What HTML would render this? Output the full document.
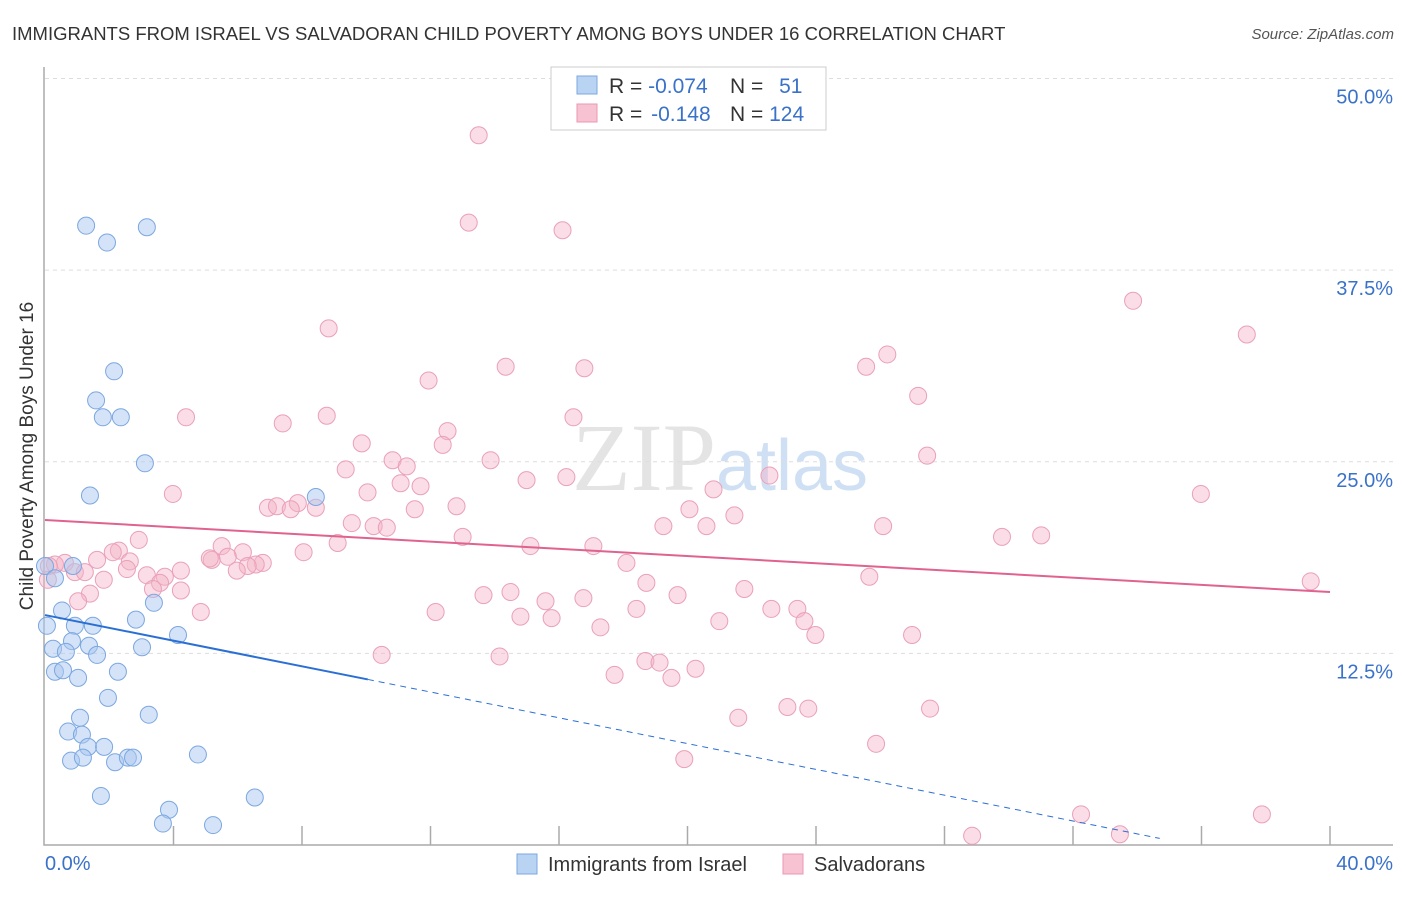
<!DOCTYPE html>
<html><head><meta charset="utf-8"><style>
body{margin:0;background:#fff;width:1406px;height:892px;overflow:hidden;font-family:"Liberation Sans",sans-serif}
</style></head><body>
<svg id="chart" width="1406" height="892" xmlns="http://www.w3.org/2000/svg" font-family="Liberation Sans, sans-serif">
<text x="12" y="40" font-size="18.5" fill="#333">IMMIGRANTS FROM ISRAEL VS SALVADORAN CHILD POVERTY AMONG BOYS UNDER 16 CORRELATION CHART</text>
<text x="1394" y="39" font-size="15" fill="#555" font-style="italic" text-anchor="end">Source: ZipAtlas.com</text>
<text x="720" y="490" font-size="96" text-anchor="middle" fill="#e4e4e4" font-family="Liberation Serif, serif">ZIP<tspan fill="#cfe0f4" font-family="Liberation Sans, sans-serif" font-size="72">atlas</tspan></text>
<text transform="translate(33,456) rotate(-90)" font-size="19" fill="#333" text-anchor="middle">Child Poverty Among Boys Under 16</text>
<g id="grid"></g><g id="pts"></g><g id="trend"></g>
<g>
<rect x="551" y="67" width="275" height="63" fill="#fff" stroke="#ccc"/>
<rect x="577" y="76" width="20" height="18" fill="#b9d3f3" stroke="#7ba7e0"/>
<rect x="577" y="104" width="20" height="18" fill="#f7c3d3" stroke="#e89ab3"/>
<text x="609" y="93" font-size="21" fill="#333">R = <tspan fill="#3a72c9">-0.074</tspan></text>
<text x="730" y="93" font-size="21" fill="#333">N = <tspan fill="#3a72c9" dx="10">51</tspan></text>
<text x="609" y="121" font-size="21" fill="#333">R = <tspan fill="#3a72c9" dx="3">-0.148</tspan></text>
<text x="730" y="121" font-size="21" fill="#333">N = <tspan fill="#3a72c9">124</tspan></text>
</g>
<g>
<rect x="517" y="854" width="20" height="20" fill="#b9d3f3" stroke="#7ba7e0"/>
<text x="548" y="871" font-size="20" fill="#333">Immigrants from Israel</text>
<rect x="783" y="854" width="20" height="20" fill="#f7c3d3" stroke="#e89ab3"/>
<text x="814" y="871" font-size="20" fill="#333">Salvadorans</text>
</g>
</svg>
<script>
const xTicks=[0,4,8,12,16,20,24,28,32,36,40];
const yTicks=[12.5,25,37.5,50];
const yTickLabels=["12.5%","25.0%","37.5%","50.0%"];
const blueX=[1.28,1.93,3.17,2.15,1.59,1.80,2.36,3.11,1.40,8.43,0,0.31,0.87,0.53,3.39,2.83,0.93,1.49,0.06,0.84,4.14,0.25,0.65,1.37,1.62,3.02,0.31,0.56,1.03,2.27,1.96,1.09,3.23,0.72,1.15,1.34,1.84,4.76,0.81,1.18,2.18,2.58,2.74,1.74,6.53,3.86,3.67,5.23];
const blueY=[40.4,39.3,40.3,30.9,29.0,27.9,27.9,24.9,22.8,22.7,18.2,17.4,18.2,15.3,15.8,14.7,14.3,14.3,14.3,13.3,13.7,12.8,12.6,13.0,12.4,12.9,11.3,11.4,10.9,11.3,9.6,8.3,8.5,7.4,7.2,6.4,6.4,5.9,5.5,5.7,5.4,5.7,5.7,3.2,3.1,2.3,1.4,1.3];
const pinkX=[13.50,13.19,16.11,33.87,37.41,8.83,26.22,14.34,16.79,25.56,11.94,27.18,4.39,8.77,16.45,7.40,12.53,9.86,12.38,27.46,10.82,13.87,11.26,9.36,22.55,16.23,14.99,11.07,11.69,3.98,20.81,35.98,10.04,6.94,7.22,7.87,7.65,8.43,11.51,12.81,20.06,21.46,9.55,10.23,10.64,19.25,20.59,26.09,13.00,29.79,31.01,2.92,9.11,15.11,17.07,5.50,2.30,2.11,8.05,1.62,2.64,5.19,6.16,5.13,5.69,6.78,6.56,6.31,5.97,4.23,0.62,0.31,0.12,0.93,1.24,2.55,3.17,3.73,1.83,3.58,18.10,25.66,39.40,18.72,1.40,4.23,3.36,1.03,0.09,14.49,13.65,15.58,16.76,19.69,21.77,4.85,12.16,18.41,22.61,23.42,14.80,15.77,20.99,23.64,17.29,23.98,26.99,10.48,14.15,18.69,19.13,17.73,19.50,20.25,21.58,23.11,23.76,27.55,25.87,19.90,32.25,37.88,28.86,33.46];
const pinkY=[46.3,40.6,40.1,35.5,33.3,33.7,32.0,31.2,31.1,31.2,30.3,29.3,27.9,28.0,27.9,27.5,27.0,26.2,26.1,25.4,25.1,25.1,24.7,24.5,24.1,24.0,23.8,23.6,23.4,22.9,23.2,22.9,23.0,22.0,22.1,22.3,21.9,22.0,21.9,22.1,21.9,21.5,21.0,20.8,20.7,20.8,20.8,20.8,20.1,20.1,20.2,19.9,19.7,19.5,19.5,19.5,19.2,19.1,19.1,18.6,18.5,18.6,19.1,18.7,18.8,18.4,18.3,18.2,17.9,17.9,18.4,18.3,18.2,17.8,17.8,18.0,17.6,17.5,17.3,17.1,18.4,17.5,17.2,17.1,16.4,16.6,16.7,15.9,17.3,16.5,16.3,15.9,16.1,16.3,16.7,15.2,15.2,15.4,15.4,15.4,14.9,14.8,14.6,14.6,14.2,13.7,13.7,12.4,12.3,12.0,11.9,11.1,10.9,11.5,8.3,9.0,8.9,8.9,6.6,5.6,2.0,2.0,0.6,0.7];
const blueTrend=[[0,15.0],[10.05,10.8],[34.7,0.43]];
const pinkTrend=[[0,21.2],[40,16.5]];
const X=v=>45+v*32.125, Y=v=>845-v*15.33;
const NS="http://www.w3.org/2000/svg";
function mk(t,a,p){const e=document.createElementNS(NS,t);for(const k in a)e.setAttribute(k,a[k]);p.appendChild(e);return e;}
const grid=document.getElementById('grid');
yTicks.forEach((t,i)=>{
 const l=mk('line',{x1:45,x2:1393,y1:Y(t),y2:Y(t),stroke:'#ddd','stroke-dasharray':'4,4'},grid);
 
 
 const tx=mk('text',{x:1393,y:Y(t)+25,'font-size':20,fill:'#3a72c9','text-anchor':'end'},grid);
 tx.textContent=yTickLabels[i];
 
 
});
const ax=mk('path',{d:'M44 67V845H1393',fill:'none',stroke:'#aaa','stroke-width':1.5},grid);


xTicks.forEach((t,i)=>{if(i===0)return;
 const l=mk('line',{x1:X(t),x2:X(t),y1:826,y2:845,stroke:'#aaa','stroke-width':1.5},grid);
 
 
});
const x0=mk('text',{x:45,y:870,'font-size':20,fill:'#3a72c9'},grid);x0.textContent='0.0%';


const x1=mk('text',{x:1393,y:870,'font-size':20,fill:'#3a72c9','text-anchor':'end'},grid);x1.textContent='40.0%';


const pts=document.getElementById('pts');
pinkX.forEach((v,i)=>{const c=mk('circle',{cx:X(v),cy:Y(pinkY[i]),r:8.5,fill:'rgba(245,180,200,0.45)',stroke:'#eaa0b8','stroke-width':1},pts);
 
 });
blueX.forEach((v,i)=>{const c=mk('circle',{cx:X(v),cy:Y(blueY[i]),r:8.5,fill:'rgba(170,200,240,0.5)',stroke:'#7ba7e0','stroke-width':1},pts);
 
 });
const tr=document.getElementById('trend');
const b1=mk('line',{x1:X(blueTrend[0][0]),y1:Y(blueTrend[0][1]),x2:X(blueTrend[1][0]),y2:Y(blueTrend[1][1]),stroke:'#2a6fd4','stroke-width':2},tr);


const b2=mk('line',{x1:X(blueTrend[1][0]),y1:Y(blueTrend[1][1]),x2:X(blueTrend[2][0]),y2:Y(blueTrend[2][1]),stroke:'#2a6fd4','stroke-width':1,'stroke-dasharray':'6,5'},tr);


const p1=mk('line',{x1:X(pinkTrend[0][0]),y1:Y(pinkTrend[0][1]),x2:X(pinkTrend[1][0]),y2:Y(pinkTrend[1][1]),stroke:'#e0628f','stroke-width':2},tr);


</script>
</body></html>
